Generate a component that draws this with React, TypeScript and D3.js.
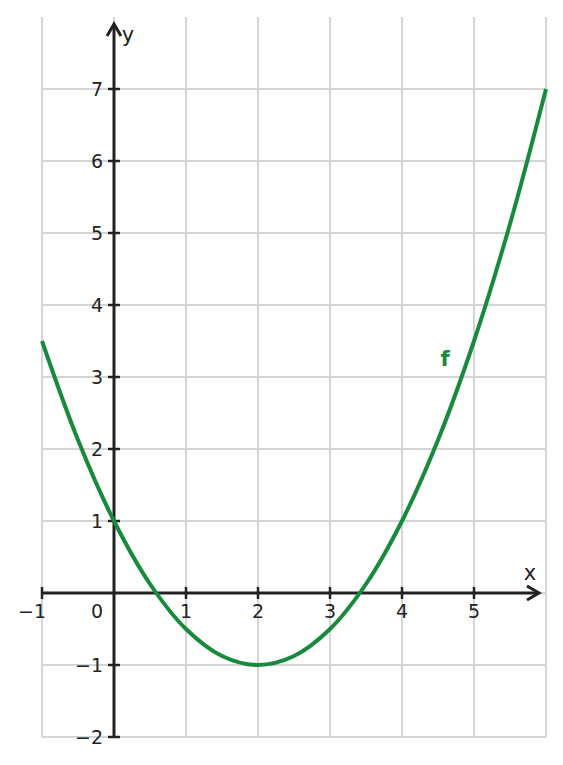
import React from "react";
import * as d3 from "d3";

const curveX = [-1, -0.5, 0, 0.5, 1, 1.5, 2, 2.5, 3, 3.5, 4, 4.5, 5, 5.5, 6];
const curveY = [3.5, 2.125, 1, 0.125, -0.5, -0.875, -1, -0.875, -0.5, 0.125, 1, 2.125, 3.5, 5.125, 7];

const xTicks = [-1, 1, 2, 3, 4, 5];
const yTicks = [-2, -1, 1, 2, 3, 4, 5, 6, 7];
const xGrid = [-1, 0, 1, 2, 3, 4, 5, 6];
const yGrid = [-2, -1, 0, 1, 2, 3, 4, 5, 6, 7];

const fmt = (v: number) => (v < 0 ? `\u2212${Math.abs(v)}` : `${v}`);

const App: React.FC = () => {
  const width = 563;
  const height = 765;

  const x = d3.scaleLinear().domain([-1, 6]).range([42, 546]);
  const y = d3.scaleLinear().domain([-2, 8]).range([737, 17]);

  const line = d3
    .line<number>()
    .x((_, i) => x(curveX[i]))
    .y((d) => y(d))
    .curve(d3.curveCatmullRom.alpha(0.5));

  const axisColor = "#222";
  const gridColor = "#d4d4d4";
  const green = "#178a3d";
  const txt = { fontFamily: "'DejaVu Sans', sans-serif", fontSize: "19px" };

  return (
    <svg
      width={width}
      height={height}
      style={{ position: "absolute", left: 0, top: 0, background: "#fff" }}
    >
      {/* grid */}
      {xGrid.map((v) => (
        <line key={"gx" + v} x1={x(v)} x2={x(v)} y1={y(8)} y2={y(-2)} stroke={gridColor} strokeWidth={2} />
      ))}
      {yGrid.map((v) => (
        <line key={"gy" + v} x1={x(-1)} x2={x(6)} y1={y(v)} y2={y(v)} stroke={gridColor} strokeWidth={2} />
      ))}

      {/* axes */}
      <line x1={x(-1)} x2={538} y1={y(0)} y2={y(0)} stroke={axisColor} strokeWidth={3} />
      <path d={`M${527},${y(0) - 7} L${539},${y(0)} L${527},${y(0) + 7}`} fill="none" stroke={axisColor} strokeWidth={3} />
      <line x1={x(0)} x2={x(0)} y1={y(-2)} y2={26} stroke={axisColor} strokeWidth={3} />
      <path d={`M${x(0) - 7},${36} L${x(0)},${24} L${x(0) + 7},${36}`} fill="none" stroke={axisColor} strokeWidth={3} />

      {/* ticks */}
      {xTicks.map((v) => (
        <g key={"tx" + v}>
          <line x1={x(v)} x2={x(v)} y1={y(0) - 6} y2={y(0) + 6} stroke={axisColor} strokeWidth={2.5} />
          <text x={x(v) - (v < 0 ? 10 : 0)} y={y(0) + 25} textAnchor="middle" style={txt} fill={axisColor}>
            {fmt(v)}
          </text>
        </g>
      ))}
      {yTicks.map((v) => (
        <g key={"ty" + v}>
          <line x1={x(0) - 6} x2={x(0) + 6} y1={y(v)} y2={y(v)} stroke={axisColor} strokeWidth={2.5} />
          <text x={x(0) - 11} y={y(v) + 7} textAnchor="end" style={txt} fill={axisColor}>
            {fmt(v)}
          </text>
        </g>
      ))}
      <text x={x(0) - 11} y={y(0) + 25} textAnchor="end" style={txt} fill={axisColor}>
        0
      </text>
      <text x={530} y={580} textAnchor="middle" style={{ ...txt, fontSize: "21px" }} fill={axisColor}>
        x
      </text>
      <text x={128} y={42} textAnchor="middle" style={{ ...txt, fontSize: "21px" }} fill={axisColor}>
        y
      </text>

      {/* curve */}
      <path d={line(curveY) || ""} fill="none" stroke={green} strokeWidth={4} />
      <text x={445} y={366} textAnchor="middle" style={{ ...txt, fontSize: "21px", fontWeight: "bold" }} fill={green}>
        f
      </text>
    </svg>
  );
};

export default App;
